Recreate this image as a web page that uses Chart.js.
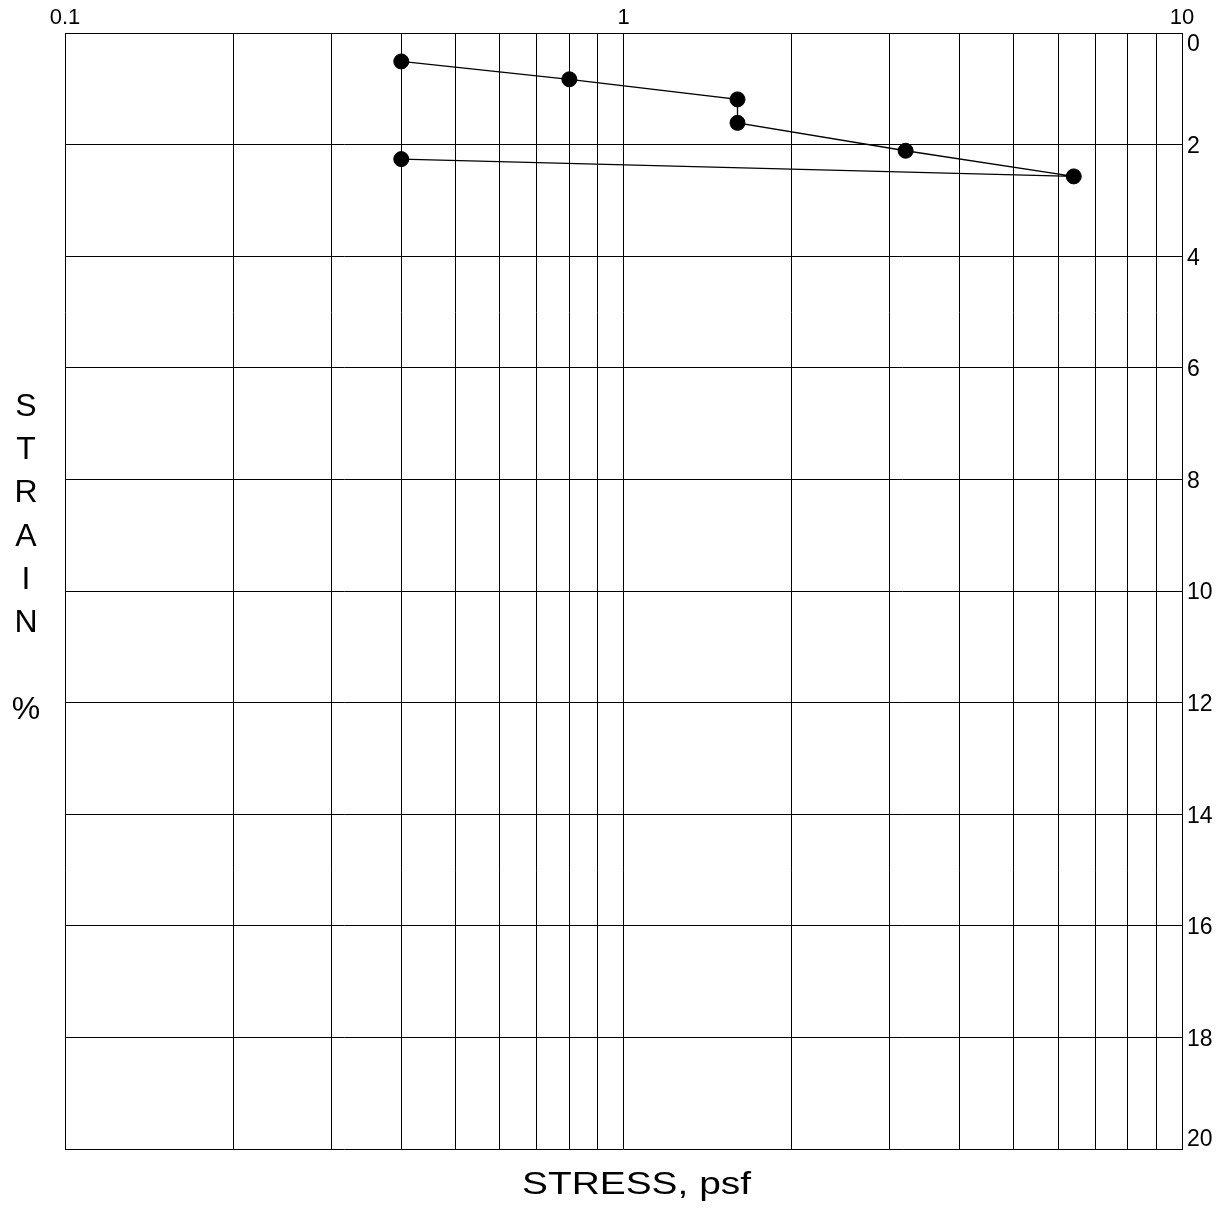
<!DOCTYPE html>
<html>
<head>
<meta charset="utf-8">
<script src="https://cdn.jsdelivr.net/npm/chart.js@4.4.0/dist/chart.umd.min.js"></script>
<style>
  html, body { margin: 0; padding: 0; background: #fff; }
  #wrap { width: 1227px; height: 1210px; }
</style>
</head>
<body>
<div id="wrap"><canvas id="strainChart" width="1227" height="1210"></canvas></div>
<script>
// load increments and the strain read after each
const stress = [0.4, 0.8, 1.6, 1.6, 3.2, 6.4, 0.4];
const strain = [0.51, 0.83, 1.19, 1.61, 2.11, 2.57, 2.26];

// log paper lines and labelled values
const stressGrid = [0.1, 0.2, 0.3, 0.4, 0.5, 0.6, 0.7, 0.8, 0.9, 1, 2, 3, 4, 5, 6, 7, 8, 9, 10];
const stressLabels = [0.1, 1, 10];
const strainTicks = [0, 2, 4, 6, 8, 10, 12, 14, 16, 18, 20];

const FONT = '"Liberation Sans", Arial, sans-serif';

// STRAIN % stacked down the left side, strain numbers on the right, stress title under the plot
const sideText = {
    id: 'sideText',
    afterDraw(chart) {
        const ctx = chart.ctx;
        const area = chart.chartArea;
        const y = chart.scales.y;
        ctx.save();
        ctx.fillStyle = '#000';

        ctx.font = '23px ' + FONT;
        ctx.textAlign = 'left';
        ctx.textBaseline = 'middle';
        strainTicks.forEach(v => {
            let py = y.getPixelForValue(v) + 2;
            py = Math.max(area.top + 12, Math.min(area.bottom - 9, py));
            ctx.fillText(String(v), area.right + 5, py);
        });

        ctx.font = '32px ' + FONT;
        ctx.textAlign = 'center';
        const letters = ['S', 'T', 'R', 'A', 'I', 'N', '', '%'];
        letters.forEach((ch, i) => {
            ctx.fillText(ch, 26, 407 + i * 43.3);
        });

        // the stress title is a little wider than the plain face
        ctx.font = '31px ' + FONT;
        const title = 'STRESS, psf';
        const w = ctx.measureText(title).width;
        ctx.translate((area.left + area.right) / 2 + 13, area.bottom + 36);
        ctx.scale(229 / w, 1);
        ctx.fillText(title, 0, 0);
        ctx.restore();
    }
};

new Chart(document.getElementById('strainChart'), {
    type: 'scatter',
    data: {
        datasets: [{
            data: stress.map((s, i) => ({ x: s, y: strain[i] })),
            showLine: true,
            borderColor: '#000',
            borderWidth: 1.3,
            backgroundColor: '#000',
            pointBackgroundColor: '#000',
            pointBorderColor: '#000',
            pointBorderWidth: 1,
            pointRadius: 7.5,
            pointHoverRadius: 7.5,
            tension: 0
        }]
    },
    options: {
        responsive: false,
        animation: false,
        events: [],
        layout: { padding: { left: 65, right: 0, top: 0, bottom: 61 } },
        plugins: {
            legend: { display: false },
            tooltip: { enabled: false }
        },
        scales: {
            x: {
                type: 'logarithmic',
                position: 'top',
                min: 0.1,
                max: 10,
                afterBuildTicks: scale => {
                    scale.ticks = stressGrid.map(v => ({ value: v, major: false }));
                },
                afterFit: scale => { scale.height = 33; },
                ticks: {
                    autoSkip: false,
                    maxRotation: 0,
                    padding: 2,
                    color: '#000',
                    font: { family: FONT, size: 22 },
                    callback: v => stressLabels.includes(v) ? String(v) : ''
                },
                grid: { color: '#000', lineWidth: 1, drawTicks: false },
                border: { color: '#000', width: 1 }
            },
            y: {
                type: 'linear',
                position: 'right',
                reverse: true,
                min: 0,
                max: 20,
                afterBuildTicks: scale => {
                    scale.ticks = strainTicks.map(v => ({ value: v }));
                },
                afterFit: scale => { scale.width = 45; },
                ticks: { display: false },
                grid: { color: '#000', lineWidth: 1, drawTicks: false },
                border: { color: '#000', width: 1 }
            }
        }
    },
    plugins: [sideText]
});
</script>
</body>
</html>
